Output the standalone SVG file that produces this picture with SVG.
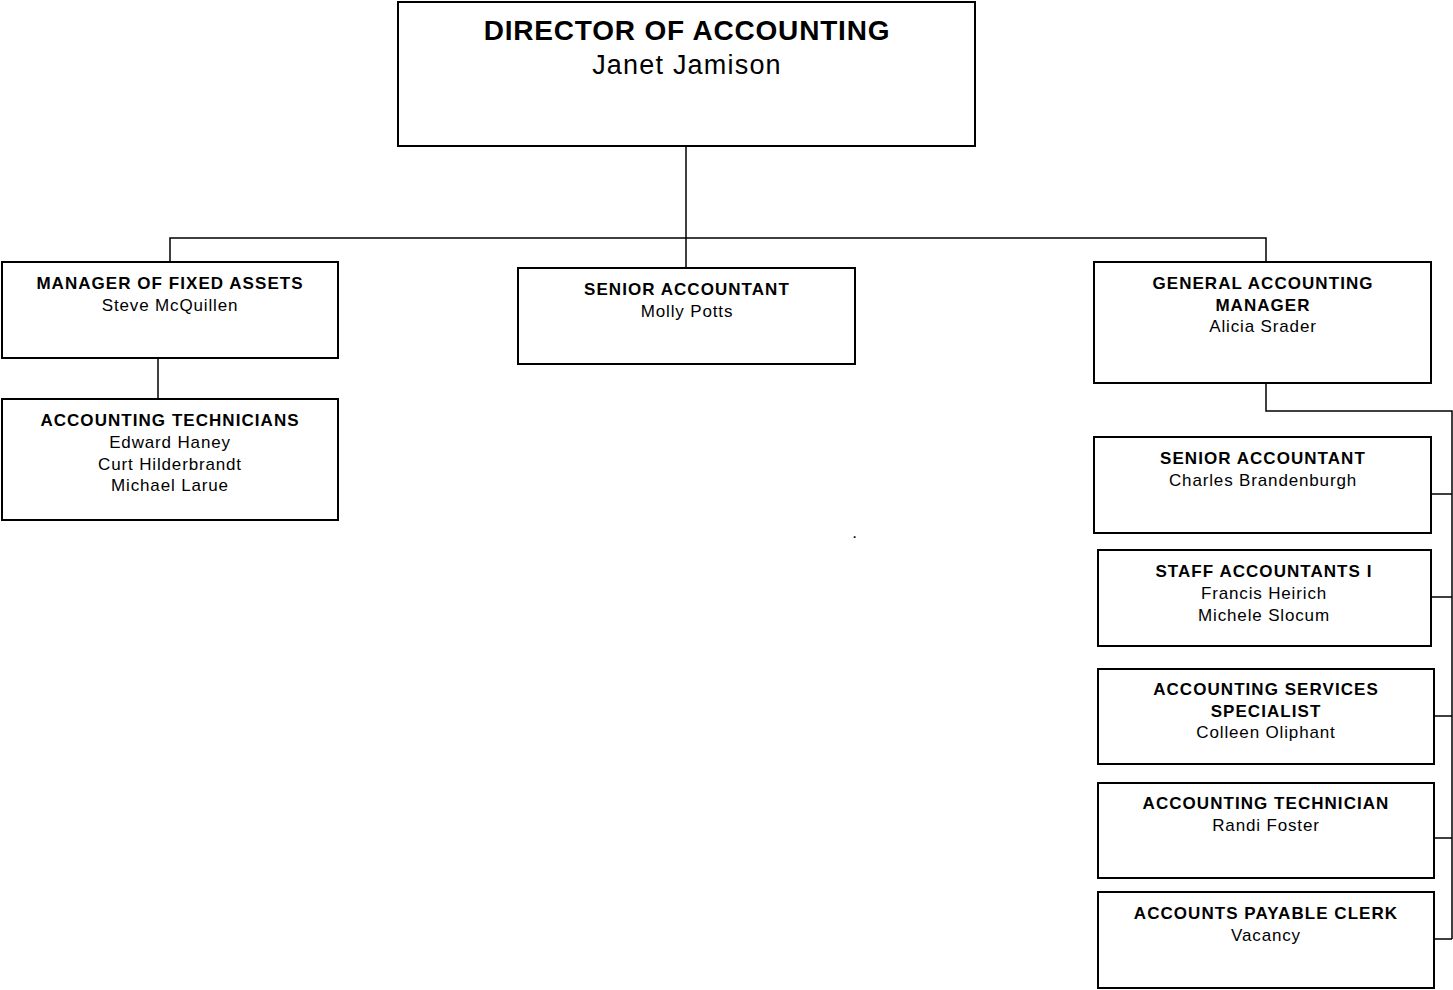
<svg xmlns="http://www.w3.org/2000/svg" width="1453" height="990" viewBox="0 0 1453 990">
<style>
.box{fill:#fff;stroke:#000;stroke-width:2}
.ln{fill:none;stroke:#000;stroke-width:1.5}
text{font-family:"Liberation Sans",Arial,sans-serif;fill:#000;text-anchor:middle}
.t{font-weight:bold;font-size:17px;letter-spacing:1.05px}
.n{font-size:17px;letter-spacing:0.85px}
.bt{font-weight:bold;font-size:28px;letter-spacing:0.8px}
.bn{font-size:27px;letter-spacing:1.2px}
</style>
<rect width="1453" height="990" fill="#fff"/>
<g id="connectors">
<path class="ln" d="M686,146 V268 M170,262 V238 H1266 V262"/>
<path class="ln" d="M158,358 V399"/>
<path class="ln" d="M1266,383 V411 H1452 V939 M1431,494 H1452 M1431,597 H1452 M1434,716 H1452 M1434,838 H1452 M1434,939 H1452"/>
</g>
<g id="director">
<rect class="box" x="398" y="2" width="577" height="144"/>
<text class="bt" x="687" y="40">DIRECTOR OF ACCOUNTING</text>
<text class="bn" x="687" y="74">Janet Jamison</text>
</g>
<g id="manager-fixed-assets">
<rect class="box" x="2" y="262" width="336" height="96"/>
<text class="t" x="170" y="289">MANAGER OF FIXED ASSETS</text>
<text class="n" x="170" y="311">Steve McQuillen</text>
</g>
<g id="accounting-technicians">
<rect class="box" x="2" y="399" width="336" height="121"/>
<text class="t" x="170" y="426">ACCOUNTING TECHNICIANS</text>
<text class="n" x="170" y="448">Edward Haney</text>
<text class="n" x="170" y="470">Curt Hilderbrandt</text>
<text class="n" x="170" y="491">Michael Larue</text>
</g>
<g id="senior-accountant-potts">
<rect class="box" x="518" y="268" width="337" height="96"/>
<text class="t" x="687" y="295">SENIOR ACCOUNTANT</text>
<text class="n" x="687" y="317">Molly Potts</text>
</g>
<text class="n" x="855" y="538">.</text>
<g id="general-accounting-manager">
<rect class="box" x="1094" y="262" width="337" height="121"/>
<text class="t" x="1263" y="289">GENERAL ACCOUNTING</text>
<text class="t" x="1263" y="311">MANAGER</text>
<text class="n" x="1263" y="332">Alicia Srader</text>
</g>
<g id="senior-accountant-brandenburgh">
<rect class="box" x="1094" y="437" width="337" height="96"/>
<text class="t" x="1263" y="464">SENIOR ACCOUNTANT</text>
<text class="n" x="1263" y="486">Charles Brandenburgh</text>
</g>
<g id="staff-accountants">
<rect class="box" x="1098" y="550" width="333" height="96"/>
<text class="t" x="1264" y="577">STAFF ACCOUNTANTS I</text>
<text class="n" x="1264" y="599">Francis Heirich</text>
<text class="n" x="1264" y="621">Michele Slocum</text>
</g>
<g id="accounting-services-specialist">
<rect class="box" x="1098" y="669" width="336" height="95"/>
<text class="t" x="1266" y="695">ACCOUNTING SERVICES</text>
<text class="t" x="1266" y="717">SPECIALIST</text>
<text class="n" x="1266" y="738">Colleen Oliphant</text>
</g>
<g id="accounting-technician">
<rect class="box" x="1098" y="783" width="336" height="95"/>
<text class="t" x="1266" y="809">ACCOUNTING TECHNICIAN</text>
<text class="n" x="1266" y="831">Randi Foster</text>
</g>
<g id="accounts-payable-clerk">
<rect class="box" x="1098" y="892" width="336" height="96"/>
<text class="t" x="1266" y="919">ACCOUNTS PAYABLE CLERK</text>
<text class="n" x="1266" y="941">Vacancy</text>
</g>
</svg>
